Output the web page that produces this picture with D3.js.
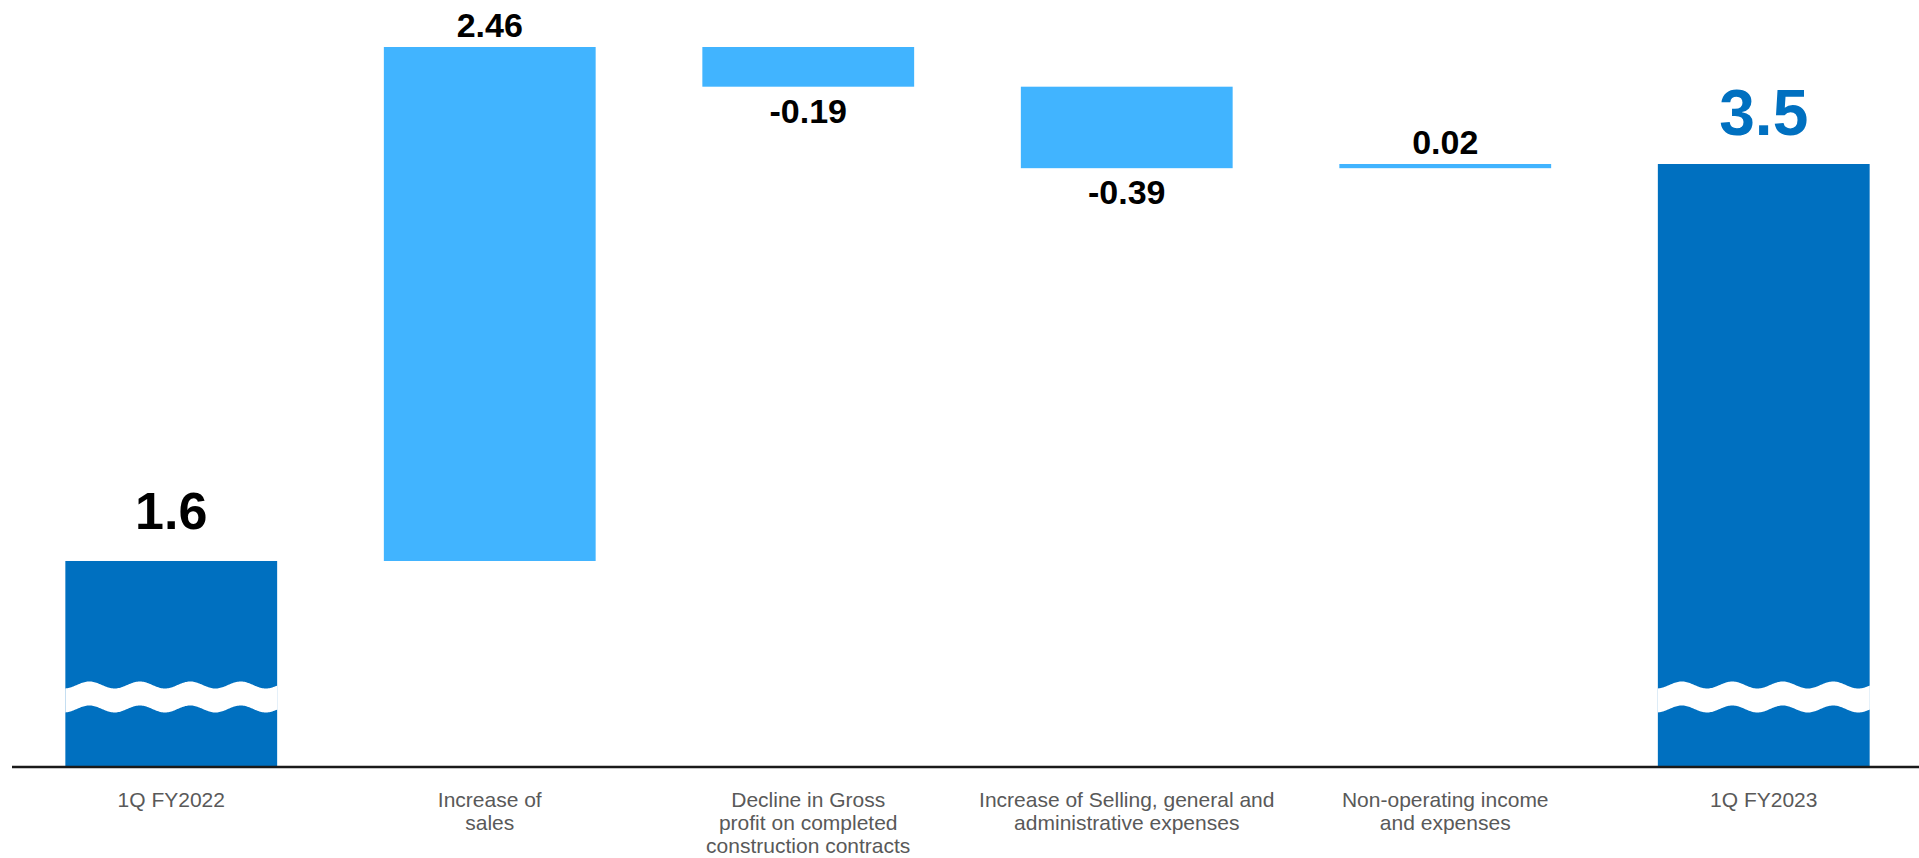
<!DOCTYPE html>
<html>
<head>
<meta charset="utf-8">
<script src="https://cdn.jsdelivr.net/npm/d3@7"></script>
<style>
  html, body { margin: 0; padding: 0; background: #fff; }
  svg { display: block; }
  text { font-family: "Liberation Sans", Arial, sans-serif; }
</style>
</head>
<body>
<div id="chart"></div>
<script>
// data
var categories = [
    ["1Q FY2022"],
    ["Increase of", "sales"],
    ["Decline in Gross", "profit on completed", "construction contracts"],
    ["Increase of Selling, general and", "administrative expenses"],
    ["Non-operating income", "and expenses"],
    ["1Q FY2023"]
];
var values = [1.6, 2.46, -0.19, -0.39, 0.02, 3.5];
var kinds = ["total", "delta", "delta", "delta", "delta", "total"];
var valueLabels = ["1.6", "2.46", "-0.19", "-0.39", "0.02", "3.5"];

var width = 1919, height = 858;
var baseY = 767;

var svg = d3.select("#chart")
    .append("svg")
    .attr("width", width)
    .attr("height", height);

// build waterfall steps
var running = 0;
var steps = values.map(function (v, i) {
    var s;
    if (kinds[i] == "total") {
        s = { lo: null, hi: v, start: v };
        running = v;
    } else {
        var a = running, b = running + v;
        s = { lo: Math.min(a, b), hi: Math.max(a, b) };
        running = b;
    }
    s.i = i;
    s.v = v;
    s.kind = kinds[i];
    return s;
});

// X scale
var x = d3.scaleBand()
    .domain(d3.range(values.length))
    .range([12, 1923])
    .paddingInner(0.335)
    .paddingOuter(0.1675);

// Y scale (axis is broken, bottom of the plot is not zero)
var y = d3.scaleLinear()
    .domain([0.614, 4.06])
    .range([baseY, 47]);

// bars
svg.append("g")
    .selectAll("rect")
    .data(steps)
    .join("rect")
    .attr("x", function (d) { return x(d.i); })
    .attr("width", x.bandwidth())
    .attr("y", function (d) { return y(d.hi); })
    .attr("height", function (d) {
        return d.kind == "total" ? baseY - y(d.hi) : Math.max(3, y(d.lo) - y(d.hi));
    })
    .style("fill", function (d) { return d.kind == "total" ? "#0070C0" : "#41B4FF"; });

// wavy break on the total bars
var amp = 3.5;
steps.filter(function (d) { return d.kind == "total"; }).forEach(function (d) {
    var x0 = x(d.i), x1 = x0 + x.bandwidth();
    var period = x.bandwidth() / 4.2;
    var phase = 24;
    var wave = function (px, c) {
        return c - amp * Math.sin(2 * Math.PI * (px - x0 - phase) / period + Math.PI / 2);
    };
    var xs = d3.range(x0, x1 + 0.5, 1);
    var top = xs.map(function (px) { return [px, wave(px, baseY - 82)]; });
    var bot = xs.slice().reverse().map(function (px) { return [px, wave(px, baseY - 58)]; });
    svg.append("path")
        .attr("d", d3.line()(top.concat(bot)) + "Z")
        .style("fill", "#fff");
});

// baseline
svg.append("line")
    .attr("x1", 12)
    .attr("x2", width)
    .attr("y1", baseY)
    .attr("y2", baseY)
    .style("stroke", "#1a1a1a")
    .style("stroke-width", 2.5);

// value labels
svg.append("g")
    .selectAll("text")
    .data(steps)
    .join("text")
    .attr("x", function (d) { return x(d.i) + x.bandwidth() / 2; })
    .attr("y", function (d) {
        if (d.kind == "total") return y(d.hi) - (d.i == 0 ? 32 : 29);
        if (d.v < 0) return y(d.lo) + 36;
        return y(d.hi) - 10;
    })
    .attr("text-anchor", "middle")
    .style("font-weight", "bold")
    .style("font-size", function (d) {
        if (d.kind == "total") return d.i == 0 ? "52px" : "64px";
        return "34px";
    })
    .style("fill", function (d) { return d.i == values.length - 1 ? "#0070C0" : "#000"; })
    .text(function (d) { return valueLabels[d.i]; });

// category labels
var cat = svg.append("g")
    .selectAll("text")
    .data(categories)
    .join("text")
    .attr("x", function (d, i) { return x(i) + x.bandwidth() / 2; })
    .attr("y", 807)
    .attr("text-anchor", "middle")
    .style("font-size", "21px")
    .style("fill", "#595959");

cat.selectAll("tspan")
    .data(function (d) { return d; })
    .join("tspan")
    .attr("x", function () { return d3.select(this.parentNode).attr("x"); })
    .attr("dy", function (d, j) { return j == 0 ? 0 : 23; })
    .text(function (d) { return d; });
</script>
</body>
</html>
